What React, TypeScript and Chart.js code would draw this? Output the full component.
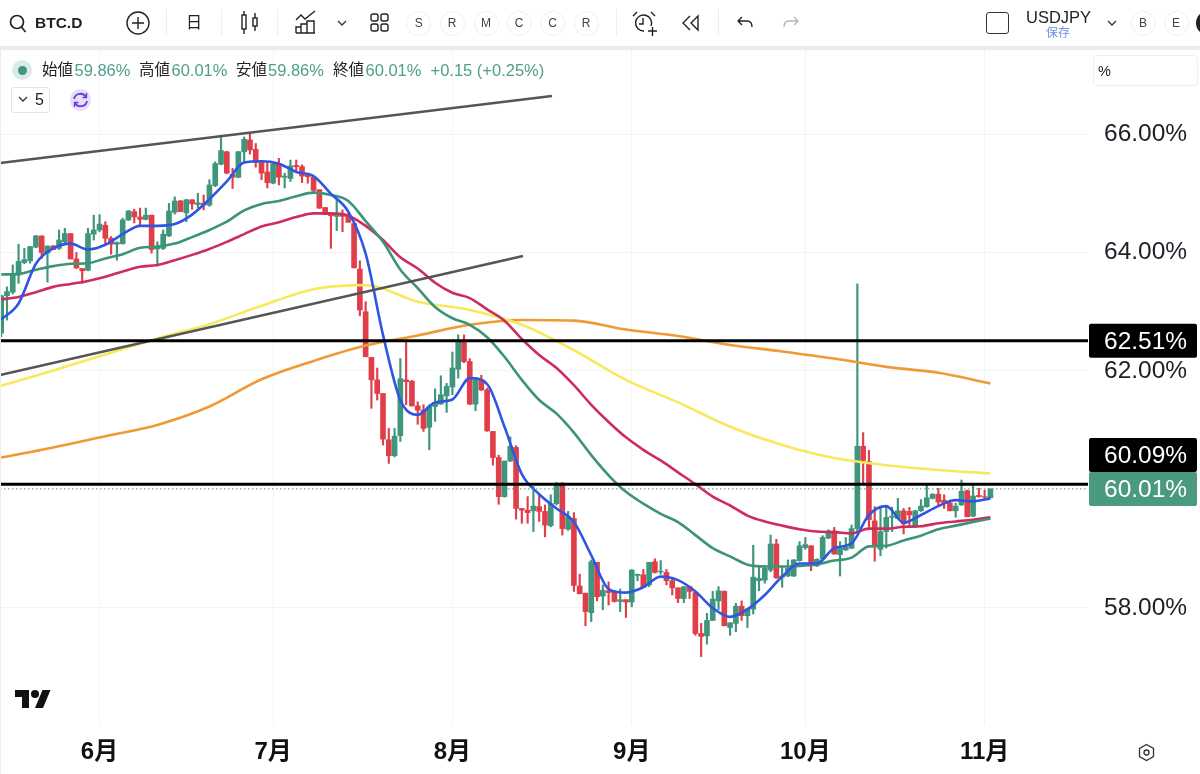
import React from "react"
import { Chart, registerables } from "chart.js"

Chart.register(...registerables)

// one candle per day, index 0 is the first candle on the left
const opens = [
  62.64, 63.27, 63.33, 63.62, 63.83, 63.86, 64.09, 64.28, 63.99, 64.11, 64.07, 64.18, 64.32, 63.89, 63.73, 63.7, 64.31, 64.38, 64.46, 64.24,
  64.14, 64.15, 64.55, 64.69, 64.6, 64.56, 64.63, 64.06, 64.07, 64.28, 64.68, 64.87, 64.67, 64.89, 64.81, 64.83, 64.8, 65.13, 65.49, 65.7,
  65.32, 65.27, 65.7, 65.9, 65.74, 65.52, 65.36, 65.17, 65.5, 65.27, 65.25, 65.47, 65.45, 65.31, 65.27, 65.06, 64.76, 64.66, 64.61, 64.66,
  64.61, 64.49, 63.72, 63.0, 62.23, 61.85, 61.62, 60.84, 60.57, 60.91, 61.85, 61.83, 61.41, 61.34, 61.05, 61.4, 61.44, 61.58, 61.73, 62.03,
  62.51, 62.16, 61.44, 61.85, 61.68, 60.98, 60.54, 59.88, 60.48, 60.71, 59.68, 59.65, 59.64, 59.71, 59.63, 59.39, 59.76, 60.09, 59.33, 59.51,
  58.37, 58.25, 57.92, 58.77, 58.2, 58.29, 58.28, 58.11, 58.14, 58.1, 58.55, 58.56, 58.39, 58.78, 58.61, 58.6, 58.46, 58.34, 58.16, 58.36,
  58.26, 57.57, 57.53, 57.79, 58.12, 58.28, 57.67, 57.74, 58.03, 57.87, 57.98, 58.46, 58.47, 58.64, 59.08, 58.52, 58.54, 58.54, 58.8, 59.02,
  59.05, 58.71, 58.83, 59.18, 59.3, 58.9, 58.98, 59.01, 59.34, 60.73, 60.47, 59.47, 58.99, 59.29, 59.53, 59.51, 59.64, 59.63, 59.37, 59.64,
  59.71, 59.85, 59.92, 59.82, 59.77, 59.64, 59.74, 59.98, 59.55, 59.9, 59.88, 59.86,
]
const highs = [
  63.28, 63.42, 63.79, 64.14, 64.07, 64.1, 64.29, 64.28, 64.11, 64.12, 64.38, 64.41, 64.32, 64.0, 63.73, 64.41, 64.63, 64.64, 64.52, 64.27,
  64.18, 64.58, 64.71, 64.73, 64.75, 64.75, 64.63, 64.18, 64.38, 64.83, 64.94, 64.88, 64.9, 64.89, 65.0, 64.97, 65.23, 65.53, 65.95, 65.71,
  65.42, 65.71, 65.95, 66.01, 65.84, 65.53, 65.53, 65.51, 65.59, 65.34, 65.56, 65.56, 65.48, 65.31, 65.28, 65.06, 64.76, 64.66, 64.89, 64.72,
  64.66, 64.5, 63.86, 63.17, 62.23, 62.05, 61.62, 61.03, 61.03, 62.21, 62.51, 61.84, 61.48, 61.43, 61.43, 61.7, 61.92, 61.79, 62.32, 62.61,
  62.61, 62.21, 61.87, 61.93, 61.71, 60.98, 60.58, 60.48, 60.89, 60.74, 59.68, 59.88, 60.05, 59.91, 59.74, 59.91, 60.12, 60.12, 59.63, 59.61,
  58.57, 58.25, 58.81, 58.77, 58.39, 58.44, 58.29, 58.32, 58.14, 58.65, 58.57, 58.65, 58.77, 58.83, 58.8, 58.65, 58.5, 58.34, 58.36, 58.37,
  58.26, 57.74, 57.91, 58.28, 58.36, 58.29, 57.75, 58.08, 58.12, 57.99, 59.06, 58.7, 58.71, 59.23, 59.16, 58.7, 58.81, 58.82, 59.12, 59.19,
  59.05, 58.83, 59.22, 59.32, 59.36, 59.12, 59.19, 59.4, 63.47, 60.96, 60.66, 59.71, 59.7, 59.7, 59.7, 59.85, 59.68, 59.7, 59.65, 59.83,
  60.09, 59.93, 60.02, 59.91, 59.82, 59.77, 60.16, 59.99, 60.08, 60.02, 59.99, 60.01,
]
const lows = [
  62.58, 62.86, 63.3, 63.48, 63.81, 63.82, 64.08, 63.9, 63.5, 64.05, 64.05, 64.15, 63.89, 63.73, 63.48, 63.69, 64.21, 64.35, 64.15, 63.97,
  63.87, 64.14, 64.54, 64.5, 64.46, 64.55, 63.99, 63.77, 64.05, 64.27, 64.65, 64.69, 64.52, 64.73, 64.75, 64.72, 64.78, 65.11, 65.48, 65.33,
  65.08, 65.26, 65.52, 65.66, 65.44, 65.23, 65.09, 65.16, 65.14, 65.09, 65.2, 65.36, 65.18, 65.17, 65.0, 64.74, 64.64, 64.07, 64.37, 64.35,
  64.51, 63.74, 62.93, 62.24, 61.37, 61.51, 60.75, 60.44, 60.55, 60.81, 61.43, 61.41, 61.1, 60.98, 60.67, 61.15, 61.44, 61.3, 61.6, 61.88,
  62.14, 61.43, 61.33, 61.67, 60.98, 60.41, 59.75, 59.87, 60.47, 59.5, 59.43, 59.43, 59.29, 59.46, 59.2, 59.37, 59.74, 59.23, 59.31, 58.28,
  58.24, 57.7, 57.77, 58.12, 57.97, 58.05, 58.1, 57.94, 57.84, 58.02, 58.46, 58.35, 58.36, 58.59, 58.57, 58.39, 58.22, 58.09, 58.09, 58.16,
  57.54, 57.18, 57.39, 57.79, 57.97, 57.7, 57.54, 57.6, 57.79, 57.67, 57.9, 58.29, 58.42, 58.61, 58.5, 58.35, 58.53, 58.53, 58.79, 58.99,
  58.63, 58.7, 58.82, 59.17, 58.91, 58.54, 58.97, 59.0, 59.27, 60.08, 59.36, 58.79, 58.88, 59.01, 59.29, 59.51, 59.25, 59.38, 59.36, 59.63,
  59.7, 59.84, 59.71, 59.68, 59.64, 59.53, 59.73, 59.54, 59.54, 59.87, 59.82, 59.86,
]
const closes = [
  63.27, 63.34, 63.62, 63.85, 63.88, 64.1, 64.28, 64.0, 64.11, 64.05, 64.21, 64.32, 63.89, 63.74, 63.69, 64.32, 64.38, 64.48, 64.24, 64.14,
  64.17, 64.55, 64.7, 64.6, 64.56, 64.63, 64.05, 64.1, 64.31, 64.7, 64.87, 64.69, 64.89, 64.82, 64.84, 64.8, 65.14, 65.5, 65.72, 65.34,
  65.27, 65.7, 65.91, 65.73, 65.52, 65.34, 65.18, 65.5, 65.27, 65.29, 65.46, 65.45, 65.29, 65.28, 65.05, 64.75, 64.64, 64.62, 64.66, 64.61,
  64.51, 63.74, 63.03, 62.24, 61.85, 61.62, 60.85, 60.57, 60.9, 61.87, 61.82, 61.41, 61.34, 61.03, 61.4, 61.47, 61.6, 61.74, 62.05, 62.51,
  62.16, 61.44, 61.85, 61.68, 60.99, 60.54, 59.88, 60.48, 60.73, 59.68, 59.65, 59.61, 59.72, 59.63, 59.4, 59.76, 60.09, 59.34, 59.54, 58.38,
  58.24, 57.94, 58.78, 58.19, 58.3, 58.26, 58.11, 58.14, 58.1, 58.64, 58.57, 58.35, 58.77, 58.6, 58.62, 58.46, 58.34, 58.16, 58.36, 58.28,
  57.57, 57.52, 57.79, 58.15, 58.29, 57.7, 57.75, 58.03, 57.87, 57.98, 58.52, 58.5, 58.67, 59.08, 58.51, 58.54, 58.67, 58.81, 59.05, 59.07,
  58.71, 58.82, 59.19, 59.3, 58.91, 59.01, 59.03, 59.34, 60.73, 60.49, 59.49, 59.03, 59.29, 59.53, 59.55, 59.64, 59.42, 59.57, 59.64, 59.72,
  59.86, 59.92, 59.79, 59.77, 59.64, 59.72, 59.97, 59.54, 59.89, 59.88, 59.87, 60.01,
]

const fastStep = 3
const blueLine = [
  62.87, 63.14, 63.81, 64.07, 64.15, 64.05, 64.13, 64.31, 64.45, 64.45, 64.48, 64.64, 64.9, 65.2, 65.52, 65.54, 65.5, 65.36, 65.29, 64.99,
  64.69, 63.98, 62.61, 61.51, 61.26, 61.47, 61.52, 61.88, 61.78, 61.06, 60.26, 59.92, 59.68, 59.45, 58.89, 58.32, 58.26, 58.35, 58.53, 58.47,
  58.28, 58.0, 57.85, 57.98, 58.22, 58.53, 58.75, 58.75, 59.01, 59.09, 59.57, 59.72, 59.44, 59.57, 59.72, 59.82, 59.8, 59.85,
]
const greenLine = [
  63.63, 63.64, 63.71, 63.77, 63.81, 63.82, 63.9, 63.97, 64.08, 64.1, 64.15, 64.26, 64.38, 64.52, 64.71, 64.82, 64.87, 64.95, 65.01, 64.97,
  64.87, 64.53, 64.18, 63.71, 63.4, 63.08, 62.89, 62.78, 62.57, 62.24, 61.85, 61.51, 61.28, 60.96, 60.58, 60.24, 59.96, 59.76, 59.59, 59.45,
  59.23, 59.01, 58.87, 58.73, 58.7, 58.7, 58.71, 58.74, 58.8, 58.85, 59.04, 59.05, 59.14, 59.22, 59.33, 59.39, 59.45, 59.51,
]
const redLine = [
  63.21, 63.25, 63.33, 63.42, 63.47, 63.52, 63.59, 63.68, 63.76, 63.79, 63.87, 63.96, 64.06, 64.18, 64.31, 64.44, 64.51, 64.6, 64.66, 64.66,
  64.62, 64.45, 64.21, 63.92, 63.73, 63.49, 63.32, 63.23, 63.04, 62.85, 62.54, 62.27, 62.05, 61.76, 61.43, 61.14, 60.88, 60.67, 60.49, 60.29,
  60.09, 59.88, 59.73, 59.56, 59.46, 59.39, 59.33, 59.29, 59.28, 59.26, 59.34, 59.34, 59.37, 59.38, 59.43, 59.46, 59.49, 59.53,
]
const slowStep = 9
const yellowLine = [61.75, 62.01, 62.28, 62.55, 62.79, 63.1, 63.38, 63.45, 63.17, 63.03, 62.78, 62.35, 61.85, 61.47, 61.06, 60.75, 60.53, 60.41, 60.33, 60.27]
const orangeLine = [60.54, 60.71, 60.9, 61.09, 61.4, 61.86, 62.17, 62.43, 62.6, 62.78, 62.86, 62.85, 62.7, 62.59, 62.44, 62.33, 62.21, 62.07, 61.97, 61.79]

const trendUpperDays = [-0.2, 95.2]
const trendUpperValues = [65.51, 66.64]
const trendLowerDays = [-0.2, 90.2]
const trendLowerValues = [61.93, 63.94]

const resistanceLevels = [62.51, 60.09]
const lastPrice = 60.01

const monthDays = [17, 47, 78, 109, 139, 170]
const monthLabels = ["6月", "7月", "8月", "9月", "10月", "11月"]
const priceTicks = [66, 64, 62, 58]

const UP = "#3f967d"
const DOWN = "#e03f49"
const FONT = '"Liberation Sans", "Noto Sans CJK JP", sans-serif'
const X_MIN = -0.207
const X_MAX = 187.87

const days = closes.map((_, i) => i)
const candleColors = days.map((i) => (closes[i] >= opens[i] ? UP : DOWN))

const smoothLine = (label: string, values: number[], step: number, color: string, width: number, order: number) => ({
  type: "line" as const,
  label,
  data: values.map((y, k) => ({ x: k * step, y })),
  borderColor: color,
  borderWidth: width,
  pointRadius: 0,
  cubicInterpolationMode: "monotone" as const,
  order,
})

const straightLine = (label: string, xs: number[], ys: number[], color: string, width: number, order: number) => ({
  type: "line" as const,
  label,
  data: xs.map((x, k) => ({ x, y: ys[k] })),
  borderColor: color,
  borderWidth: width,
  pointRadius: 0,
  order,
})

// price tags sit on the right axis, a tag moves up when it would hit the one below
const priceTagPlugin = {
  id: "priceTags",
  afterDraw(chart: any) {
    const { ctx, scales } = chart
    const tags = [
      { value: lastPrice, color: "#4a9a82" },
      { value: resistanceLevels[1], color: "#000000" },
      { value: resistanceLevels[0], color: "#000000" },
    ]
    const height = 34
    let limit = Infinity
    ctx.save()
    ctx.font = `24.5px ${FONT}`
    ctx.textBaseline = "middle"
    ctx.textAlign = "left"
    tags.forEach((tag) => {
      const center = Math.min(scales.y.getPixelForValue(tag.value), limit - height / 2)
      limit = center - height / 2
      ctx.fillStyle = tag.color
      ctx.beginPath()
      ctx.roundRect(1089, center - height / 2, 108, height, 2)
      ctx.fill()
      ctx.fillStyle = "#ffffff"
      ctx.fillText(`${tag.value.toFixed(2)}%`, 1104, center + 1)
    })
    ctx.restore()
  },
}

const CandleChart = () => {
  const chartRef = React.useRef<HTMLCanvasElement>(null)

  React.useEffect(() => {
    if (chartRef.current == null) {
      return
    }

    const chart = new Chart(chartRef.current, {
      type: "bar",
      data: {
        datasets: [
          straightLine("62.51", [X_MIN, X_MAX], [resistanceLevels[0], resistanceLevels[0]], "#000000", 3, 1),
          straightLine("60.09", [X_MIN, X_MAX], [resistanceLevels[1], resistanceLevels[1]], "#000000", 3, 1),
          {
            ...straightLine("last", [X_MIN, X_MAX], [lastPrice, lastPrice], "#4a9a82", 1, 1),
            borderDash: [1.5, 2.5],
          },
          straightLine("trend upper", trendUpperDays, trendUpperValues, "#555555", 2.5, 2),
          straightLine("trend lower", trendLowerDays, trendLowerValues, "#555555", 2.5, 2),
          smoothLine("fast", blueLine, fastStep, "#2f55e3", 2.6, 3),
          smoothLine("mid", greenLine, fastStep, "#3b9378", 2.6, 4),
          smoothLine("long", redLine, fastStep, "#cf2c5e", 2.6, 4),
          smoothLine("yellow", yellowLine, slowStep, "#f8e95c", 2.6, 5),
          smoothLine("orange", orangeLine, slowStep, "#ef9a33", 2.6, 5),
          {
            label: "body",
            data: days.map((i) => ({ x: i, y: [opens[i], closes[i]] })),
            backgroundColor: candleColors,
            barThickness: 5,
            grouped: false,
            order: 6,
          },
          {
            label: "wick",
            data: days.map((i) => ({ x: i, y: [lows[i], highs[i]] })),
            backgroundColor: candleColors,
            barThickness: 1.5,
            grouped: false,
            order: 7,
          },
        ] as any,
      },
      options: {
        animation: false,
        responsive: false,
        layout: { padding: { top: 50, left: 0, right: 0, bottom: 0 } },
        plugins: { legend: { display: false }, tooltip: { enabled: false } },
        scales: {
          x: {
            type: "linear",
            offset: false,
            min: X_MIN,
            max: X_MAX,
            border: { display: false },
            grid: { offset: false, color: "#f3f4f4", drawTicks: false },
            afterFit: (scale: any) => {
              scale.height = 49
            },
            afterBuildTicks: (scale: any) => {
              scale.ticks = monthDays.map((value) => ({ value }))
            },
            ticks: {
              autoSkip: false,
              maxRotation: 0,
              padding: 13,
              color: "#111111",
              font: { family: FONT, size: 24, weight: "bold" },
              callback: (value: any) => monthLabels[monthDays.indexOf(value)],
            },
          },
          y: {
            type: "linear",
            position: "right",
            min: 56.025,
            max: 67.418,
            border: { display: false },
            grid: { color: "#f3f4f4", drawTicks: false },
            afterFit: (scale: any) => {
              scale.width = 112
            },
            afterBuildTicks: (scale: any) => {
              scale.ticks = priceTicks.map((value) => ({ value }))
            },
            ticks: {
              padding: 16,
              color: "#1c1f26",
              font: { family: FONT, size: 24.5 },
              callback: (value: any) => `${Number(value).toFixed(2)}%`,
            },
          },
        },
      } as any,
      plugins: [priceTagPlugin],
    })

    return () => {
      chart.destroy()
    }
  }, [])

  return <canvas ref={chartRef} width={1200} height={774} style={{ position: "absolute", left: 0, top: 0 }} />
}

const at = (x: number, y: number, extra: React.CSSProperties = {}): React.CSSProperties => ({
  position: "absolute",
  left: x,
  top: y,
  lineHeight: 1,
  whiteSpace: "nowrap",
  ...extra,
})

const Label = ({ x, y, size, color = "#222", bold, children }: any) => (
  <div style={at(x, y - size / 2, { fontSize: size, color, fontWeight: bold ? 700 : 400 })}>{children}</div>
)

const Round = ({ x, children }: any) => (
  <div
    style={at(x - 12.5, 10.5, {
      width: 23,
      height: 23,
      border: "1.5px solid #efefef",
      borderRadius: "50%",
      fontSize: 12,
      color: "#444",
      display: "flex",
      alignItems: "center",
      justifyContent: "center",
    })}
  >
    {children}
  </div>
)

const Sep = ({ x }: { x: number }) => <div style={at(x, 9, { width: 1, height: 27, background: "#eeeeee" })} />

const Chevron = ({ x, y }: { x: number; y: number }) => (
  <svg style={at(x - 5, y - 3)} width="10" height="6" viewBox="0 0 10 6">
    <path d="M1 1l4 4 4-4" fill="none" stroke="#333" strokeWidth="1.3" />
  </svg>
)

const Icon = ({ x, y, w, h, children }: any) => (
  <svg style={at(x, y)} width={w} height={h} viewBox={`0 0 ${w} ${h}`} fill="none" stroke="#222" strokeWidth="1.4">
    {children}
  </svg>
)

const Toolbar = () => (
  <>
    <div style={at(0, 46, { width: 1200, height: 4, background: "#ebebeb" })} />
    <div style={at(0, 50, { width: 1, height: 724, background: "#ececec" })} />
    <Icon x={9} y={13} w={20} h={21}>
      <circle cx="8" cy="9" r="6.5" strokeWidth="1.7" />
      <path d="M12.5 14l4 5" strokeWidth="1.7" />
    </Icon>
    <Label x={35} y={23} size={15.5} bold>BTC.D</Label>
    <Icon x={125} y={10} w={26} h={26}>
      <circle cx="13" cy="13" r="11" />
      <path d="M13 7v12M7 13h12" />
    </Icon>
    <Sep x={166} />
    <Label x={186} y={23} size={16}>日</Label>
    <Sep x={221} />
    <Icon x={240} y={10} w={20} h={26}>
      <rect x="2" y="5" width="4" height="14" />
      <path d="M4 1v4M4 19v5" />
      <rect x="13" y="8" width="4" height="8" />
      <path d="M15 3v5M15 16v5" />
    </Icon>
    <Sep x={277} />
    <Icon x={295} y={10} w={22} h={25}>
      <path d="M1 10l5-5 4 4 10-8" />
      <path d="M1 23v-6h5v6M6 23v-9h6v9M12 23V11h7v12M1 23h19" />
    </Icon>
    <Chevron x={342} y={23} />
    <Icon x={370} y={13} w={20} h={20}>
      <rect x="1" y="1" width="7" height="7" rx="2" />
      <rect x="11" y="1" width="7" height="7" rx="2" />
      <rect x="1" y="11" width="7" height="7" rx="2" />
      <rect x="11" y="11" width="7" height="7" rx="2" />
    </Icon>
    <Round x={418.7}>S</Round>
    <Round x={452}>R</Round>
    <Round x={486}>M</Round>
    <Round x={519}>C</Round>
    <Round x={552.6}>C</Round>
    <Round x={586}>R</Round>
    <Sep x={616} />
    <Icon x={632} y={11} w={26} h={26}>
      <path d="M12 20a8 8 0 1 1 7-5M11 7v6h-4M1 5l4-4M19 1l4 4M16 20h9M20.5 16v9" />
    </Icon>
    <Icon x={681} y={14} w={20} h={18}>
      <path d="M9 2L2 9l7 7M17 2l-7 7 7 7zM9 2" />
    </Icon>
    <Sep x={718} />
    <Icon x={736} y={15} w={18} h={16}>
      <path d="M6 2L2 6l4 4M2 6h9c3 0 5 2 5 6" />
    </Icon>
    <svg style={at(782, 15)} width="18" height="16" viewBox="0 0 18 16" fill="none" stroke="#b5b5b5" strokeWidth="1.4">
      <path d="M12 2l4 4-4 4M16 6H7c-3 0-5 2-5 6" />
    </svg>
    <div style={at(985.5, 12, { width: 21, height: 20, border: "1.5px solid #333", borderRadius: 3 })} />
    <Label x={1026} y={17} size={16.5}>USDJPY</Label>
    <Label x={1046} y={33} size={12} color="#6f8fe0">保存</Label>
    <Chevron x={1112} y={23} />
    <Round x={1143}>B</Round>
    <Round x={1176}>E</Round>
    <div style={at(1196, 11, { width: 24, height: 24, background: "#222", borderRadius: "50%" })} />
    <div style={at(1093, 55, { width: 103, height: 29, border: "1px solid #eeeeee", borderRadius: 4 })} />
    <Label x={1098} y={71} size={14.5}>%</Label>
  </>
)

const Legend = () => (
  <>
    <div style={at(12, 60, { width: 20, height: 20, background: "#d8ebe6", borderRadius: "50%" })} />
    <div style={at(17.5, 65.5, { width: 9, height: 9, background: UP, borderRadius: "50%" })} />
    <Label x={42} y={70} size={15.5}>始値</Label>
    <Label x={74.5} y={70} size={16.5} color="#4f9e8b">59.86%</Label>
    <Label x={139} y={70} size={15.5}>高値</Label>
    <Label x={171.5} y={70} size={16.5} color="#4f9e8b">60.01%</Label>
    <Label x={236} y={70} size={15.5}>安値</Label>
    <Label x={268} y={70} size={16.5} color="#4f9e8b">59.86%</Label>
    <Label x={333} y={70} size={15.5}>終値</Label>
    <Label x={365.5} y={70} size={16.5} color="#4f9e8b">60.01%</Label>
    <Label x={430.5} y={70} size={16.5} color="#4f9e8b">+0.15 (+0.25%)</Label>
    <div style={at(11, 87, { width: 37, height: 24, border: "1px solid #e2e2e2", borderRadius: 3 })} />
    <Chevron x={23} y={99} />
    <Label x={35} y={100} size={16}>5</Label>
    <div style={at(70, 89, { width: 21, height: 22, background: "#e8def8", borderRadius: "50%" })} />
    <svg style={at(72, 91)} width="17" height="18" viewBox="0 0 17 18" fill="none" stroke="#6a3fd6" strokeWidth="1.8">
      <path d="M2 8a6.5 6.5 0 0 1 12-2M15 10a6.5 6.5 0 0 1-12 2" />
      <path d="M14.5 2v4.5h-4M2.5 16v-4.5h4" strokeWidth="1.4" />
    </svg>
    <svg style={at(15, 690)} width="36" height="18" viewBox="0 4 36 18" fill="#111111">
      <path d="M14 22H7V11H0V4h14v18zM28 22h-8l7.5-18h8L28 22z" />
      <circle cx="20" cy="8" r="4" />
    </svg>
    <svg style={at(1137, 743)} width="19" height="19" viewBox="0 0 19 19" fill="none" stroke="#333" strokeWidth="1.3">
      <path d="M9.5 1.500l7 4v8l-7 4-7-4v-8z" />
      <circle cx="9.5" cy="9.5" r="2.5" />
    </svg>
  </>
)

export default function App() {
  return (
    <div
      style={{
        position: "absolute",
        left: 0,
        top: 0,
        width: 1200,
        height: 774,
        overflow: "hidden",
        background: "#ffffff",
        fontFamily: FONT,
      }}
    >
      <CandleChart />
      <Toolbar />
      <Legend />
    </div>
  )
}
